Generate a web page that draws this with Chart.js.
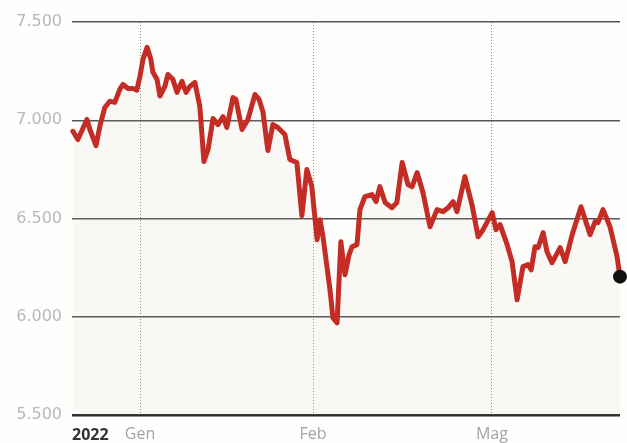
<!DOCTYPE html>
<html>
<head>
<meta charset="utf-8">
<script src="https://cdn.jsdelivr.net/npm/chart.js@4.4.1/dist/chart.umd.min.js"></script>
<style>
  html, body { margin: 0; padding: 0; background: #fefefd; }
  #wrap { width: 627px; height: 443px; position: relative; }
</style>
</head>
<body>
<div id="wrap"><canvas id="chart"></canvas></div>
<script>
// days from 1 Jan 2022
const days = [
  -22.9, -21.2, -18.1, -17.1, -15.0, -13.7, -12.0, -10.3, -8.6, -6.9,
  -5.8, -4.1, -2.4, -1.1, 0.0, 1.0, 2.4, 3.7, 4.4, 5.8,
  6.8, 8.5, 9.5, 11.2, 12.6, 14.3, 15.7, 17.0, 18.7, 20.4,
  21.8, 23.2, 24.9, 26.6, 28.3, 29.6, 31.7, 32.7, 34.8, 36.8,
  39.2, 40.6, 41.9, 43.6, 45.3, 47.0, 49.4, 51.1, 53.5, 55.2,
  56.9, 58.6, 60.4, 61.4, 62.4, 64.8, 65.8, 67.2, 68.5, 69.9,
  71.3, 72.3, 74.0, 75.0, 76.7, 79.1, 80.5, 81.8, 83.6, 85.9,
  87.6, 89.4, 91.4, 92.8, 94.5, 96.5, 98.9, 101.3, 103.3, 105.1,
  106.8, 108.1, 110.8, 113.2, 115.3, 117.0, 120.1, 121.4, 122.8, 125.2,
  126.9, 128.6, 130.6, 132.3, 133.4, 134.7, 135.8, 137.5, 138.8, 140.5,
  143.3, 145.0, 147.4, 150.4, 153.5, 155.2, 156.2, 157.9, 160.3, 162.7,
  163.7
];

const closes = [
  6944, 6902, 7004, 6953, 6871, 6970, 7065, 7097, 7091, 7157,
  7182, 7162, 7162, 7153, 7225, 7310, 7371, 7310, 7244, 7208,
  7123, 7174, 7233, 7208, 7142, 7198, 7142, 7172, 7193, 7070,
  6790, 6851, 7009, 6978, 7019, 6963, 7116, 7106, 6953, 7004,
  7131, 7106, 7045, 6846, 6978, 6963, 6927, 6800, 6785, 6514,
  6749, 6662, 6392, 6494, 6407, 6137, 5994, 5969, 6382, 6214,
  6316, 6356, 6367, 6545, 6611, 6622, 6586, 6662, 6581, 6555,
  6581, 6785, 6673, 6662, 6734, 6632, 6458, 6545, 6535, 6555,
  6586, 6535, 6713, 6571, 6407, 6443, 6530, 6443, 6469, 6367,
  6280, 6086, 6255, 6265, 6239, 6356, 6352, 6428, 6331, 6275,
  6352, 6280, 6418, 6560, 6418, 6484, 6479, 6545, 6458, 6306,
  6204
];

const yTicks = [5500, 6000, 6500, 7000, 7500];
const yTickLabels = ['5.500', '6.000', '6.500', '7.000', '7.500'];
const monthDays = [0, 59, 120];
const monthLabels = ['Gen', 'Feb', 'Mag'];
const yearLabel = '2022';

const lineRed = '#c42d26';

const yearPlugin = {
  id: 'yearLabel',
  afterDraw(chart) {
    const ctx = chart.ctx;
    const area = chart.chartArea;
    ctx.save();
    ctx.font = 'bold 16px "Open Sans"';
    ctx.fillStyle = '#333';
    ctx.textAlign = 'left';
    ctx.textBaseline = 'middle';
    ctx.fillText(yearLabel, area.left, 435);
    ctx.restore();
  },
};

const lastIdx = closes.length - 1;

new Chart(document.getElementById('chart'), {
  type: 'line',
  data: {
    datasets: [
      {
        data: days.map((d, i) => ({ x: d, y: closes[i] })),
        borderColor: lineRed,
        borderWidth: 5,
        borderJoinStyle: 'round',
        borderCapStyle: 'round',
        tension: 0,
        fill: 'start',
        backgroundColor: 'rgba(215, 190, 160, 0.09)',
        pointRadius: closes.map((v, i) => (i === lastIdx ? 7 : 0)),
        pointBackgroundColor: '#111',
        pointBorderWidth: 0,
        clip: false,
      },
    ],
  },
  options: {
    responsive: true,
    maintainAspectRatio: false,
    animation: false,
    layout: { padding: { top: 22, right: 1, left: 0, bottom: 0 } },
    plugins: {
      legend: { display: false },
      tooltip: { enabled: false },
    },
    scales: {
      x: {
        type: 'linear',
        min: -23.2,
        max: 163.7,
        afterBuildTicks: (scale) => {
          scale.ticks = monthDays.map((v) => ({ value: v }));
        },
        afterFit: (scale) => {
          scale.height = 28;
        },
        ticks: {
          callback: (v) => monthLabels[monthDays.indexOf(v)] || '',
          color: '#a3a3a3',
          font: { family: 'Open Sans', size: 16 },
          padding: 10,
          maxRotation: 0,
        },
        grid: {
          color: '#8c8c8c',
          lineWidth: 1,
          drawTicks: false,
        },
        border: { display: false, dash: [1, 2] },
      },
      y: {
        min: 5500,
        max: 7500,
        afterBuildTicks: (scale) => {
          scale.ticks = yTicks.map((v) => ({ value: v }));
        },
        afterFit: (scale) => {
          scale.width = 72;
        },
        ticks: {
          callback: (v) => yTickLabels[yTicks.indexOf(v)],
          color: '#b8b8b8',
          font: { family: 'DejaVu Sans', size: 16 },
          padding: 10,
        },
        grid: {
          color: (c) => (c.tick && c.tick.value === 5500 ? '#2e2e2e' : '#555'),
          lineWidth: (c) => (c.tick && c.tick.value === 5500 ? 2.5 : 1.5),
          drawTicks: false,
        },
        border: { display: false },
      },
    },
  },
  plugins: [yearPlugin],
});
</script>
</body>
</html>
